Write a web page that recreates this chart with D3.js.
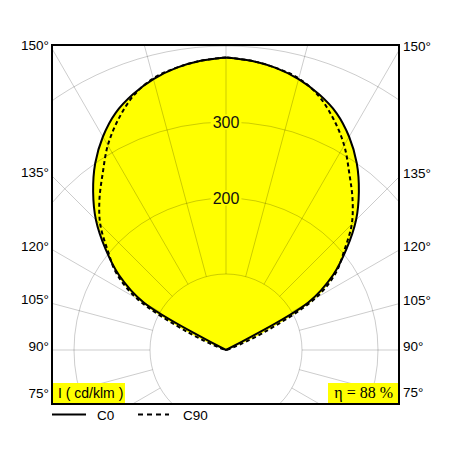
<!DOCTYPE html>
<html>
<head>
<meta charset="utf-8">
<script src="https://cdn.jsdelivr.net/npm/d3@7"></script>
<style>
  body { margin: 0; background: #fff; }
  text { font-family: "Liberation Sans", Arial, sans-serif; }
</style>
</head>
<body>
<div id="chart"></div>
<script>
// gamma angles (deg) and luminous intensity in cd/klm
var gammas = [90, 95, 100, 105, 110, 115, 120, 125, 130, 135, 140, 145, 150, 155, 160, 165, 170, 175, 180];
var c0 =     [0, 0, 0, 0, 0, 0, 125, 172, 207, 242, 272, 300, 324, 344, 358, 369, 377, 382, 385];
var c90 =    [0, 0, 0, 0, 10, 55, 135, 176, 203, 234, 259, 283, 311, 335, 356, 370, 377, 382, 385];

var ringValues = [100, 200, 300, 400];
var ringLabels = [200, 300];
var sideAngles = [150, 135, 120, 105, 90, 75];
var spokeAngles = d3.range(0, 360, 15);

var width = 452;
var height = 452;
var cx = 226, cy = 350;
var frame = { left: 52, top: 45, right: 399, bottom: 404 };
var yellow = "#ffff00";

var svg = d3.select("#chart").append("svg").attr("width", width).attr("height", height);

var rScale = d3.scaleLinear().domain([0, 400]).range([0, 304]);
var toRad = function(d) { return d * Math.PI / 180; };

svg.append("clipPath").attr("id", "clip")
  .append("rect")
  .attr("x", frame.left).attr("y", frame.top)
  .attr("width", frame.right - frame.left).attr("height", frame.bottom - frame.top);

var outer = svg.append("g").attr("clip-path", "url(#clip)");
var plot = outer.append("g").attr("transform", "translate(" + cx + "," + cy + ")");

// left half (C180 / C270) then right half (C0 / C90)
function points(vals) {
  var pts = [];
  for (var i = gammas.length - 1; i >= 0; i--) pts.push([Math.PI + toRad(gammas[i]), vals[i]]);
  for (var j = 1; j < gammas.length; j++) pts.push([Math.PI - toRad(gammas[j]), vals[j]]);
  return pts;
}

var radial = d3.lineRadial()
  .angle(function(d) { return d[0]; })
  .radius(function(d) { return rScale(d[1]); })
  .curve(d3.curveCatmullRom.alpha(0.5));

// fill
[c0, c90].forEach(function(vals) {
  plot.append("path")
    .attr("d", radial(points(vals)) + "Z")
    .attr("fill", yellow)
    .attr("stroke", "none");
});

// grid
var grid = plot.append("g")
  .attr("fill", "none")
  .attr("stroke", "#000")
  .attr("stroke-opacity", 0.2)
  .attr("stroke-width", 1);

grid.selectAll("circle")
  .data(ringValues)
  .enter()
  .append("circle")
  .attr("r", function(d) { return rScale(d); });

grid.selectAll("line")
  .data(spokeAngles)
  .enter()
  .append("line")
  .attr("x1", function(d) { return rScale(100) * Math.sin(toRad(d)); })
  .attr("y1", function(d) { return rScale(100) * Math.cos(toRad(d)); })
  .attr("x2", function(d) { return 700 * Math.sin(toRad(d)); })
  .attr("y2", function(d) { return 700 * Math.cos(toRad(d)); });

// curves
plot.append("path")
  .attr("d", radial(points(c0)))
  .attr("fill", "none")
  .attr("stroke", "#000")
  .attr("stroke-width", 2)
  .attr("stroke-linejoin", "round");

plot.append("path")
  .attr("d", radial(points(c90)))
  .attr("fill", "none")
  .attr("stroke", "#000")
  .attr("stroke-width", 2)
  .attr("stroke-dasharray", "4,3");

// ring labels
ringLabels.forEach(function(v) {
  var t = plot.append("text")
    .attr("x", 0)
    .attr("y", -rScale(v))
    .attr("text-anchor", "middle")
    .attr("dominant-baseline", "central")
    .attr("font-size", "16px")
    .attr("fill", "#111")
    .text(v);
  var bb = t.node().getBBox();
  plot.insert("rect", function() { return t.node(); })
    .attr("x", bb.x - 2).attr("y", bb.y + 1)
    .attr("width", bb.width + 4).attr("height", bb.height - 2)
    .attr("fill", yellow);
});

// frame
svg.append("rect")
  .attr("x", frame.left).attr("y", frame.top)
  .attr("width", frame.right - frame.left).attr("height", frame.bottom - frame.top)
  .attr("fill", "none")
  .attr("stroke", "#000")
  .attr("stroke-width", 2);

// side angle labels, placed where the spoke meets the frame
sideAngles.forEach(function(a) {
  var g = toRad(a);
  var yl = cy + (cx - frame.left) / Math.sin(g) * Math.cos(g);
  var yr = cy + (frame.right - cx) / Math.sin(g) * Math.cos(g);
  svg.append("text")
    .attr("x", frame.left - 3).attr("y", yl - 3.5)
    .attr("text-anchor", "end")
    .attr("dominant-baseline", "central")
    .attr("font-size", "13.5px")
    .text(a + "\u00B0");
  svg.append("text")
    .attr("x", frame.right + 4).attr("y", yr - 3.5)
    .attr("text-anchor", "start")
    .attr("dominant-baseline", "central")
    .attr("font-size", "13.5px")
    .text(a + "\u00B0");
});

// unit box
svg.append("rect")
  .attr("x", frame.left + 1).attr("y", 383)
  .attr("width", 72).attr("height", frame.bottom - 384)
  .attr("fill", yellow);
svg.append("text")
  .attr("x", 58).attr("y", 398)
  .attr("font-size", "14px")
  .text("I ( cd/klm )");

// efficiency box
svg.append("rect")
  .attr("x", 328).attr("y", 383)
  .attr("width", frame.right - 329).attr("height", frame.bottom - 384)
  .attr("fill", yellow);
svg.append("text")
  .attr("x", 393).attr("y", 398)
  .attr("text-anchor", "end")
  .attr("font-size", "16px")
  .style("font-family", "'Liberation Serif', 'Times New Roman', serif")
  .text("\u03B7 = 88 %");

// legend
var legend = svg.append("g");
legend.append("line")
  .attr("x1", 52).attr("x2", 86).attr("y1", 414.5).attr("y2", 414.5)
  .attr("stroke", "#000").attr("stroke-width", 2);
legend.append("text")
  .attr("x", 97).attr("y", 419.5)
  .attr("font-size", "13.5px")
  .text("C0");
legend.append("line")
  .attr("x1", 138).attr("x2", 169).attr("y1", 414.5).attr("y2", 414.5)
  .attr("stroke", "#000").attr("stroke-width", 2)
  .attr("stroke-dasharray", "5,4");
legend.append("text")
  .attr("x", 183).attr("y", 419.5)
  .attr("font-size", "13.5px")
  .text("C90");
</script>
</body>
</html>
